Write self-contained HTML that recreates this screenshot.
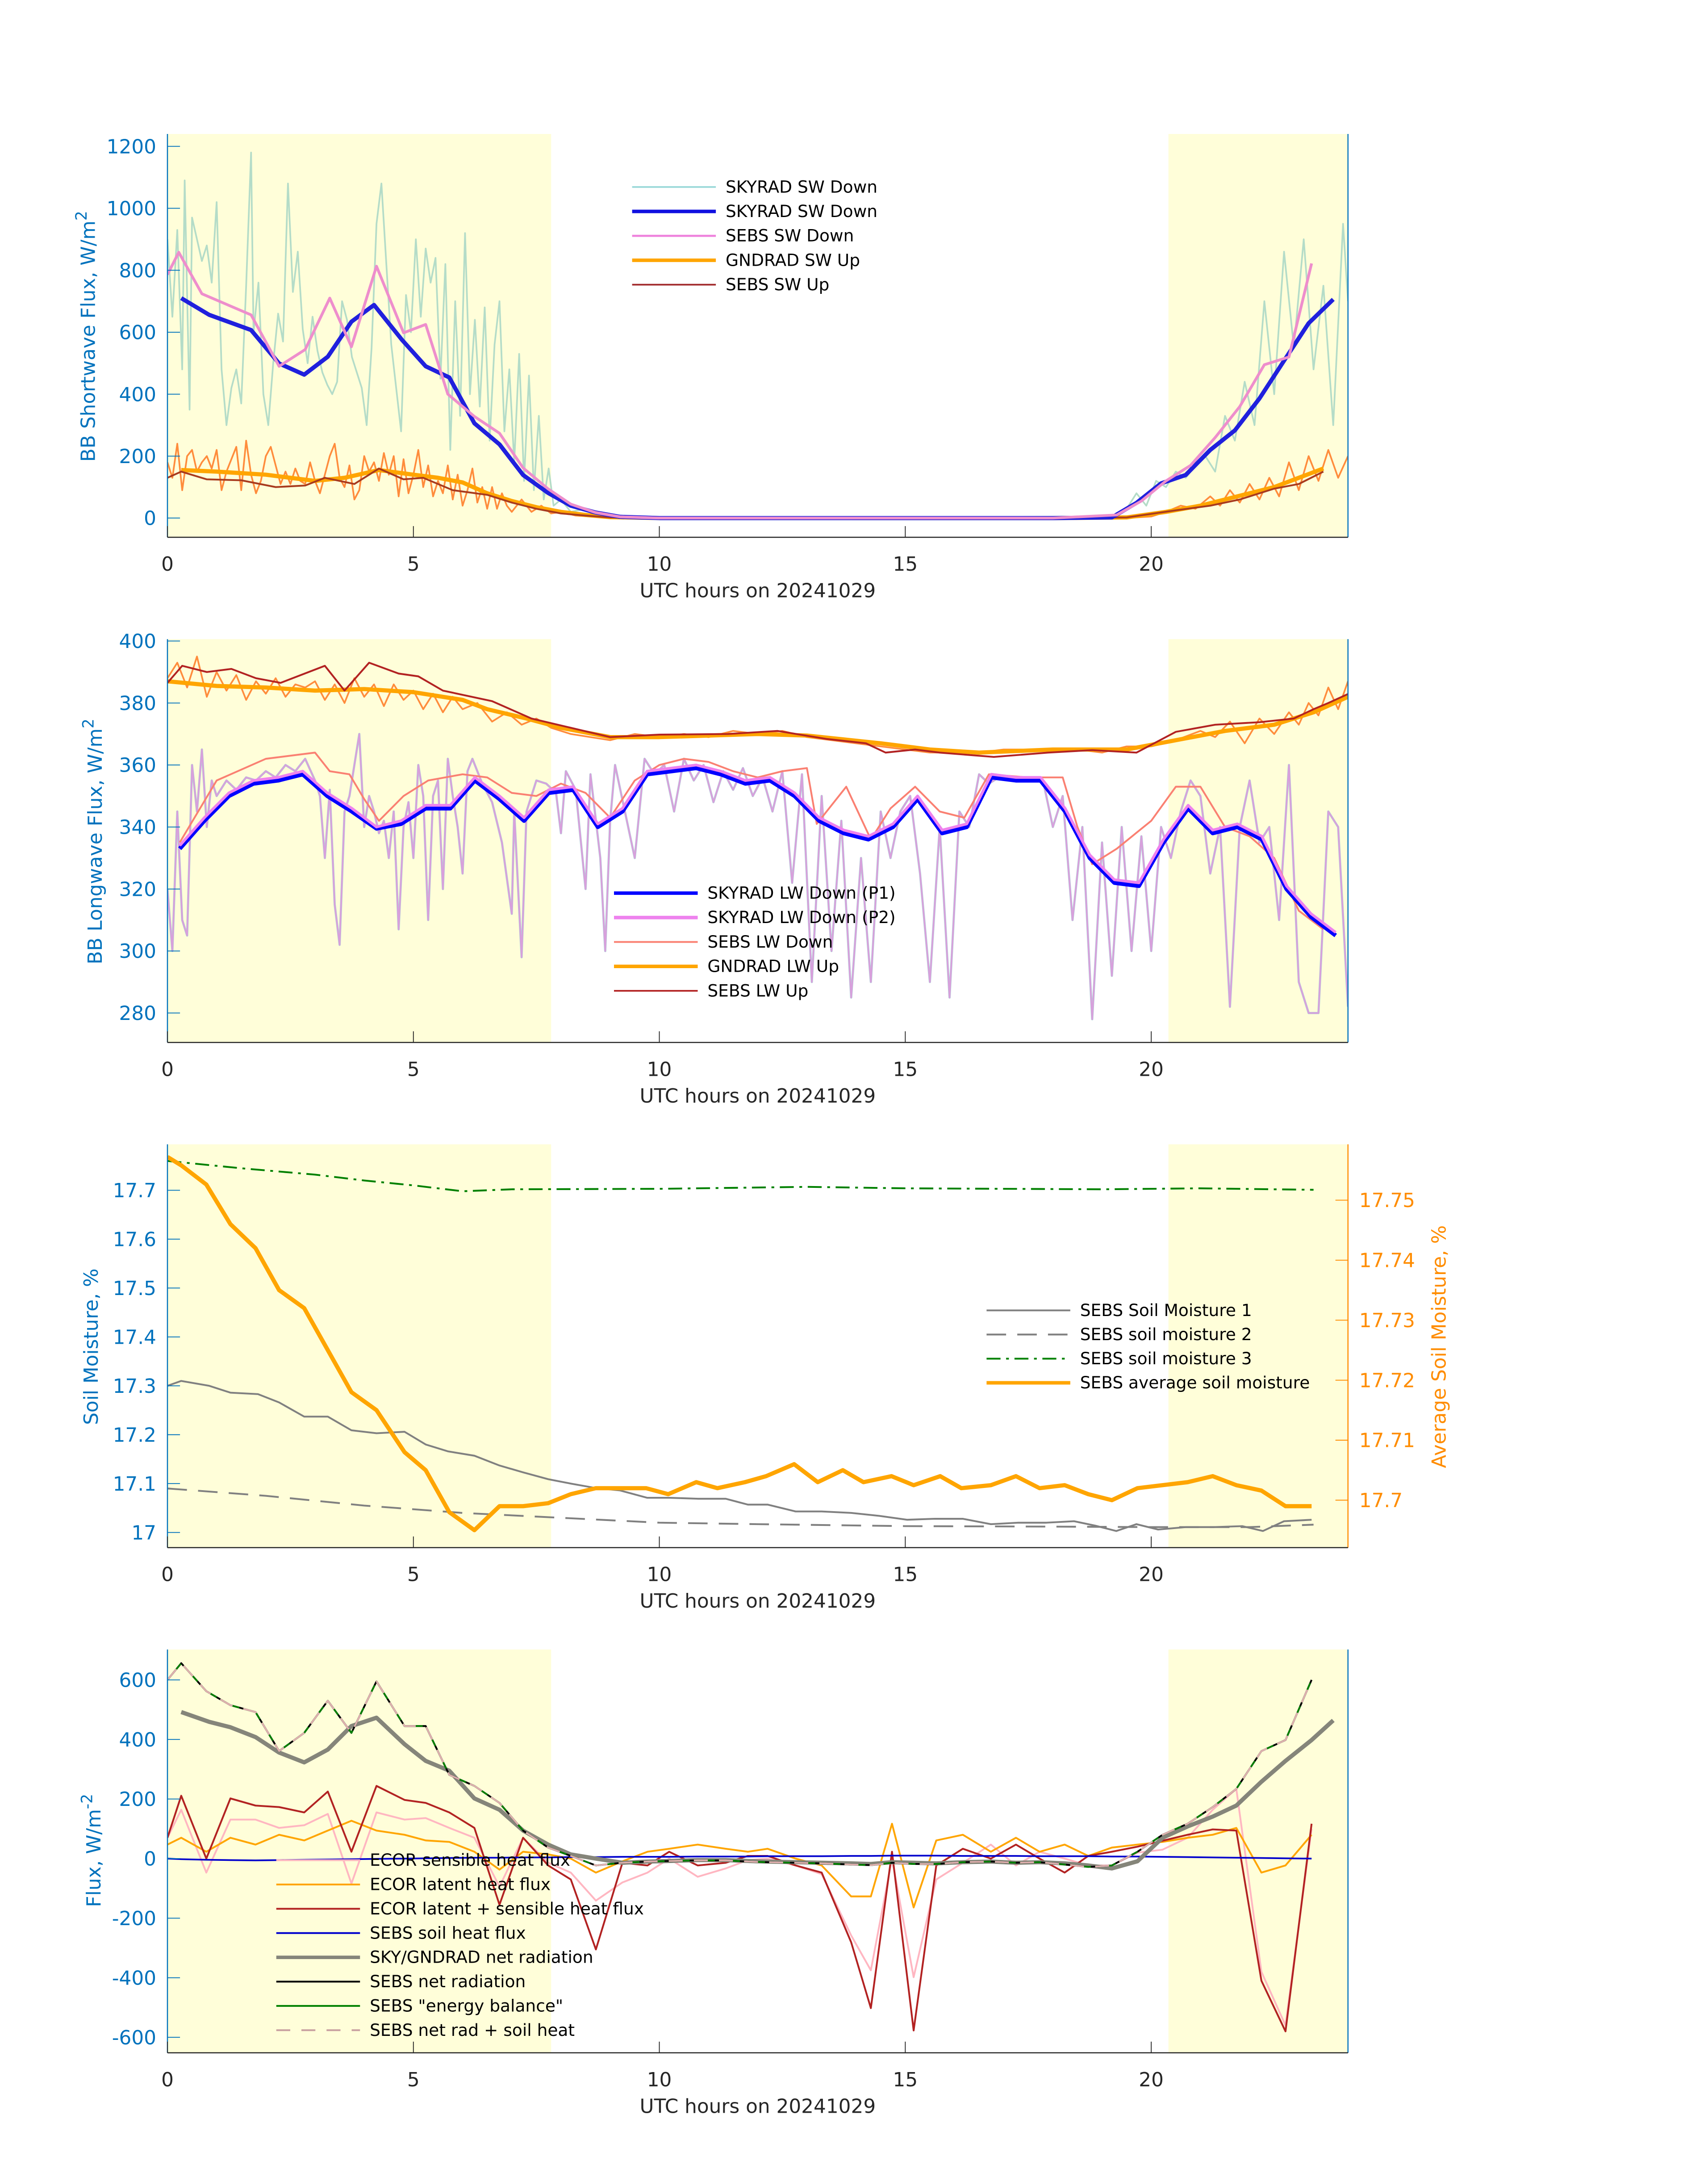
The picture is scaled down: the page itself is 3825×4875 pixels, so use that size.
<!DOCTYPE html>
<html><head><meta charset="utf-8"><style>
html,body{margin:0;padding:0;background:#fff}
svg{display:block}
text{font-family:"DejaVu Sans","Liberation Sans",sans-serif}
</style></head><body>
<svg id="fig" width="3825" height="4875" viewBox="0 0 1224 1560" xmlns="http://www.w3.org/2000/svg"></svg>
<script>
// ---------- DATA ----------
// Panel 1 (shortwave)
const swT_sky=[0.28,0.85,1.7,2.27,2.78,3.26,3.74,4.2,4.77,5.25,5.73,6.24,6.75,7.23,7.74,8.2,8.7,9.2,10,12,14,16,18,19.2,19.7,20.2,20.7,21.2,21.7,22.2,22.7,23.2,23.7];
const swV_sky=[710,656,607,499,463,521,634,688,575,490,454,306,238,139,81,40,18,4,0,0,0,0,0,2,49,112,139,220,283,386,508,629,706];
const swT_sebs=[0,0.23,0.7,1.7,2.27,2.8,3.3,3.74,4.25,4.8,5.25,5.7,6.24,6.75,7.23,7.74,8.2,8.7,9.2,10,12,14,16,18,19.3,19.8,20.3,20.8,21.3,21.8,22.3,22.8,23.26];
const swV_sebs=[786,858,724,656,490,544,710,553,813,598,625,400,328,274,162,94,45,18,4,0,0,0,0,0,10,55,120,170,260,360,495,520,822];
const swT_raw=[0,0.1,0.2,0.3,0.35,0.45,0.5,0.6,0.7,0.8,0.9,1.0,1.1,1.2,1.3,1.4,1.5,1.6,1.7,1.75,1.85,1.95,2.05,2.15,2.25,2.35,2.45,2.55,2.65,2.75,2.85,2.95,3.05,3.15,3.25,3.35,3.45,3.55,3.65,3.75,3.85,3.95,4.05,4.15,4.25,4.35,4.45,4.55,4.65,4.75,4.85,4.95,5.05,5.15,5.25,5.35,5.45,5.55,5.65,5.75,5.85,5.95,6.05,6.15,6.25,6.35,6.45,6.55,6.65,6.75,6.85,6.95,7.05,7.15,7.25,7.35,7.45,7.55,7.65,7.75,7.85,8.0,8.2,8.5,8.8,9.2,9.5,19.2,19.5,19.7,19.9,20.1,20.3,20.5,20.7,20.9,21.1,21.3,21.5,21.7,21.9,22.1,22.3,22.5,22.7,22.9,23.1,23.3,23.5,23.7,23.9,24];
const swV_raw=[900,650,930,480,1090,350,970,900,830,880,760,1020,480,300,420,480,370,750,1180,600,760,400,300,500,660,570,1080,730,860,610,500,650,540,470,430,400,440,700,640,520,470,420,300,550,950,1080,820,560,420,280,720,600,900,650,870,760,840,450,820,220,700,330,920,400,640,360,680,250,560,700,280,480,180,530,120,460,90,330,60,160,40,60,20,30,10,3,0,5,30,80,40,120,100,150,130,170,200,150,330,250,440,300,700,400,860,550,900,480,750,300,950,700];
const swT_gnd=[0.28,1,2,3,3.6,4.3,5,5.5,6,6.5,7,7.5,8,8.5,9,10,14,18,19.5,20.3,21,21.5,22,22.5,23,23.5];
const swV_gnd=[155,150,140,120,130,155,140,130,115,80,55,35,20,10,3,0,0,0,2,20,40,60,80,100,130,160];
const swT_upraw=[0,0.1,0.2,0.3,0.4,0.5,0.6,0.7,0.8,0.9,1.0,1.1,1.2,1.3,1.4,1.5,1.6,1.7,1.8,1.9,2.0,2.1,2.2,2.3,2.4,2.5,2.6,2.7,2.8,2.9,3.0,3.1,3.2,3.3,3.4,3.5,3.6,3.7,3.8,3.9,4.0,4.1,4.2,4.3,4.4,4.5,4.6,4.7,4.8,4.9,5.0,5.1,5.2,5.3,5.4,5.5,5.6,5.7,5.8,5.9,6.0,6.1,6.2,6.3,6.4,6.5,6.6,6.7,6.8,6.9,7.0,7.2,7.4,7.6,7.8,8.0,8.3,8.6,9,9.5,19.5,20,20.3,20.6,20.9,21.2,21.4,21.6,21.8,22,22.2,22.4,22.6,22.8,23,23.2,23.4,23.6,23.8,24];
const swV_upraw=[180,130,240,90,200,220,150,180,200,160,220,90,150,190,230,90,250,140,80,120,200,230,170,110,150,110,160,120,110,180,120,80,140,200,240,130,100,170,60,90,200,150,180,120,210,140,200,70,190,80,140,220,100,170,70,120,80,170,60,140,40,90,160,50,100,30,100,30,80,40,20,60,20,40,15,20,8,5,2,0,0,5,20,40,30,70,40,90,50,110,60,130,70,180,90,200,120,220,130,200];
const swT_sebsup=[0,0.28,0.8,1.5,2.2,2.8,3.2,3.8,4.3,4.8,5.2,5.8,6.5,7,7.5,8,8.5,9,10,14,18,19.5,20.5,21.2,21.8,22.5,23,23.5];
const swV_sebsup=[130,150,125,122,100,105,130,110,160,125,130,90,75,50,30,15,8,2,0,0,0,2,25,40,60,95,110,150];
// Panel 2 (longwave)
const lwT_h=[0.25,0.75,1.25,1.75,2.25,2.75,3.25,3.75,4.25,4.75,5.25,5.75,6.25,6.75,7.25,7.75,8.25,8.75,9.25,9.75,10.25,10.75,11.25,11.75,12.25,12.75,13.25,13.75,14.25,14.75,15.25,15.75,16.25,16.75,17.25,17.75,18.25,18.75,19.25,19.75,20.25,20.75,21.25,21.75,22.25,22.75,23.25,23.75];
const lwV_p1=[333,342,350,354,355,357,350,345,339.5,341,346,346,355,349,342,351,352,340,345,357,358,359,357,354,355,350,342,338,336,340,349,338,340,356,355,355,345,330,322,321,335,346,338,340,336,320,311,305];
const lwV_p2=[334,343,351,355,356,358,351,346,340,342,347,347,356,350,343,352,353,341,346,358,359,360,358,355,356,351,343,339,337,341,350,339,341,357,356,356,346,331,323,322,336,347,339,341,337,321,312,306];
const lwT_sebsdn=[0.25,1,2,3,3.3,3.7,4,4.3,4.8,5.3,6,6.5,7,7.5,8,8.5,9,9.5,10,10.5,11,11.5,12,12.5,13,13.2,13.8,14.3,14.7,15.2,15.7,16.2,16.7,17.5,18.2,18.5,18.8,19.3,20,20.5,21,21.5,22,22.5,23,23.5];
const lwV_sebsdn=[335,355,362,364,358,357,349,342,350,355,357,356,351,350,354,351,343,355,360,362,361,358,356,358,359,341,353,336,346,353,345,343,357,356,356,340,328,333,342,353,353,340,337,330,313,307];
const lwT_raw=[0,0.1,0.2,0.3,0.4,0.5,0.6,0.7,0.8,0.9,1.0,1.2,1.4,1.6,1.8,2.0,2.2,2.4,2.6,2.8,3.0,3.1,3.2,3.3,3.4,3.5,3.6,3.7,3.8,3.9,4.0,4.1,4.2,4.3,4.4,4.5,4.6,4.7,4.8,4.9,5.0,5.1,5.2,5.3,5.4,5.5,5.6,5.7,5.8,5.9,6.0,6.1,6.2,6.4,6.6,6.8,7.0,7.05,7.2,7.3,7.5,7.7,7.9,8.0,8.1,8.3,8.5,8.6,8.8,8.9,9.0,9.1,9.3,9.5,9.7,9.9,10.1,10.3,10.5,10.7,10.9,11.1,11.3,11.5,11.7,11.9,12.1,12.3,12.5,12.7,12.9,13.1,13.3,13.5,13.7,13.9,14.1,14.3,14.5,14.7,14.9,15.1,15.3,15.5,15.7,15.9,16.1,16.3,16.5,16.7,16.9,17.2,17.5,17.8,18.0,18.2,18.4,18.6,18.8,19.0,19.2,19.4,19.6,19.8,20.0,20.2,20.4,20.6,20.8,21.0,21.2,21.4,21.6,21.8,22.0,22.2,22.4,22.6,22.8,23.0,23.2,23.4,23.6,23.8,24];
const lwV_raw=[320,300,345,310,305,360,345,365,340,355,350,355,352,356,355,358,356,360,358,362,355,350,330,352,315,302,345,350,360,370,340,350,345,338,342,330,345,307,340,348,330,360,350,310,350,355,320,362,350,340,325,358,362,354,348,335,312,345,298,345,355,354,351,338,358,352,320,357,330,300,342,360,345,330,362,357,360,345,362,355,360,348,358,352,359,350,356,345,358,322,357,290,350,300,342,285,330,290,345,330,345,350,325,290,340,285,345,340,357,354,356,355,356,355,340,350,310,340,278,335,292,340,300,337,300,340,330,345,355,350,325,340,282,340,355,335,340,310,360,290,280,280,345,340,282];
const lwT_up=[0,0.3,0.8,1.3,1.8,2.3,3.2,3.6,4.1,4.7,5.1,5.6,6.6,7.4,8.2,9,10,11.4,12.4,13.4,14.2,14.6,15.2,15.7,16.8,17.9,18.8,19.7,20.5,21.3,22.2,22.9,23.3,23.6,24];
const lwV_up=[386.5,392,390,391,388,386.5,392,384,393,389.5,388.6,384,380.6,375,372,369,369.8,370,371,368.4,367,364,365,364,362.6,364,364.8,364,370.7,373,373.8,375,378,380,382.9];
const lwT_gnd=[0,1,2,3,4,5,6,6.5,7.3,8,9,10,12,13,14.5,15.5,16.5,18,19.5,20.5,21.5,22.5,23.3,24];
const lwV_gnd=[387,385.5,385,384,384.5,383.5,381,378,375,372,369,369,370,369.5,367,365,364,365,365,368,371,373,377,382];
const lwT_gndraw=[0,0.2,0.4,0.6,0.8,1.0,1.2,1.4,1.6,1.8,2.0,2.2,2.4,2.6,2.8,3.0,3.2,3.4,3.6,3.8,4.0,4.2,4.4,4.6,4.8,5.0,5.2,5.4,5.6,5.8,6.0,6.3,6.6,6.9,7.2,7.5,7.8,8.2,8.6,9.0,9.5,10,10.5,11,11.5,12,12.5,13,13.5,14,14.5,15,15.5,16,16.5,17,17.5,18,18.5,19,19.5,20,20.5,21,21.3,21.6,21.9,22.2,22.5,22.8,23,23.2,23.4,23.6,23.8,24];
const lwV_gndraw=[388,393,385,395,382,390,384,389,381,387,383,388,382,386,385,387,381,386,380,388,382,386,379,386,381,384,378,383,377,382,378,380,374,377,373,375,372,370,369,368,370,369,370,369,371,370,371,369,368,367,366,365,364,364,364,365,365,365,365,364,366,366,368,371,369,374,367,375,370,377,373,380,376,385,378,387];
// Panel 3 (soil moisture)
const smT1=[0,0.28,0.85,1.28,1.84,2.27,2.78,3.26,3.74,4.25,4.82,5.25,5.7,6.24,6.75,7.23,7.74,8.2,8.7,9.2,9.75,10.2,10.78,11.35,11.8,12.2,12.77,13.3,13.9,14.47,15.04,15.6,16.17,16.74,17.3,17.87,18.43,18.86,19.29,19.7,20.14,20.71,21.28,21.85,22.27,22.7,23.26];
const smV1=[17.30,17.31,17.30,17.286,17.283,17.266,17.237,17.237,17.209,17.203,17.206,17.18,17.166,17.157,17.137,17.123,17.109,17.1,17.091,17.086,17.071,17.071,17.069,17.069,17.057,17.057,17.043,17.043,17.04,17.034,17.026,17.028,17.028,17.017,17.02,17.02,17.023,17.014,17.003,17.017,17.006,17.011,17.011,17.013,17.003,17.023,17.026];
const smT2=[0,2,4,6,8,10,12,15,18,20,22,23.3];
const smV2=[17.09,17.075,17.055,17.04,17.03,17.02,17.017,17.013,17.012,17.011,17.011,17.016];
const smT3=[0,1.5,3,4,5,6,7,10,13,15,17,19,20,21,22.5,23.3];
const smV3=[17.76,17.745,17.732,17.72,17.71,17.698,17.702,17.703,17.707,17.704,17.703,17.702,17.703,17.704,17.702,17.701];
const smTa=[0,0.28,0.79,1.28,1.79,2.27,2.78,3.26,3.74,4.25,4.82,5.25,5.73,6.24,6.75,7.23,7.74,8.2,8.71,9.2,9.73,10.18,10.75,11.18,11.74,12.17,12.74,13.22,13.73,14.15,14.72,15.17,15.71,16.14,16.74,17.25,17.73,18.24,18.72,19.2,19.72,20.23,20.74,21.25,21.73,22.24,22.73,23.26];
const smVa=[17.7572,17.7558,17.7526,17.746,17.742,17.735,17.732,17.725,17.718,17.715,17.708,17.705,17.698,17.695,17.699,17.699,17.6995,17.701,17.702,17.702,17.702,17.701,17.703,17.702,17.703,17.704,17.706,17.703,17.705,17.703,17.704,17.7025,17.704,17.702,17.7025,17.704,17.702,17.7025,17.701,17.700,17.702,17.7025,17.703,17.704,17.7025,17.7016,17.699,17.699];
// Panel 4 (fluxes)
const fxT=[0,0.28,0.79,1.28,1.79,2.27,2.78,3.26,3.74,4.25,4.82,5.25,5.73,6.24,6.75,7.23,7.74,8.2,8.71,9.25,9.76,10.2,10.78,11.35,11.8,12.2,12.77,13.3,13.9,14.3,14.73,15.17,15.63,16.17,16.74,17.25,17.73,18.24,18.72,19.2,19.72,20.23,20.74,21.25,21.73,22.24,22.73,23.26];
const fxSens=[70,164,-47,131,131,103,112,150,-84,155,131,136,103,70,-94,70,-14,-47,-141,-80,-47,0,-61,-33,-5,0,-23,-52,-258,-375,0,-398,-70,-14,47,-23,23,0,-23,-23,20,30,70,164,234,-380,-560,100];
const fxLat=[47,70,23,70,47,80,61,94,127,94,80,61,56,23,-37,23,14,0,-47,-9,23,33,47,33,23,33,0,-23,-127,-127,117,-164,61,80,23,70,23,47,9,37,47,56,70,80,103,-47,-23,80];
const fxSum=[70,211,0,202,178,173,155,225,23,244,197,187,155,103,-155,70,-23,-70,-305,-14,-23,23,-23,-14,9,9,-23,-47,-281,-502,23,-577,-23,33,0,47,0,-47,9,23,40,60,80,98,94,-410,-580,117];
const fxSoil=[0,-2,-4,-5,-6,-5,-4,-3,-2,-1,0,1,2,3,3,4,4,5,5,6,6,6,7,7,7,8,8,8,9,9,10,10,10,9,9,9,8,8,8,7,7,6,5,4,3,2,1,0];
const fxSkyT=[0,0.28,0.85,1.28,1.79,2.27,2.78,3.26,3.74,4.25,4.82,5.25,5.73,6.24,6.75,7.23,7.74,8.2,8.71,9.25,9.76,10.2,10.78,11.35,11.8,12.2,12.77,13.3,13.9,14.3,14.73,15.17,15.63,16.17,16.74,17.25,17.73,18.24,18.72,19.2,19.72,20.23,20.74,21.25,21.73,22.24,22.73,23.26,23.7];
const fxSky=[null,492,459,441,408,356,323,366,445,473,384,328,295,202,164,94,47,14,0,-14,-10,-8,-5,-5,-8,-10,-12,-14,-16,-18,-12,-14,-16,-12,-10,-14,-12,-16,-23,-33,-9,70,108,141,178,258,328,398,464];
const fxNet=[600,656,562,515,492,361,422,530,422,595,445,445,281,244,187,94,37,9,-23,-14,-10,-8,-6,-6,-10,-12,-14,-16,-20,-22,-14,-18,-18,-12,-10,-14,-12,-20,-28,-23,23,80,117,173,234,361,398,600];
// ---------- DRAWING ----------
const svg=document.getElementById('fig');
const NS='http://www.w3.org/2000/svg';
const X0=120,X1=966;
function X(t){return X0+(X1-X0)*t/24;}
function mk(tag,attrs,parent){const e=document.createElementNS(NS,tag);for(const k in attrs)e.setAttribute(k,attrs[k]);(parent||svg).appendChild(e);return e;}
function txt(s,x,y,attrs,parent){const e=mk('text',Object.assign({x:x,y:y},attrs),parent);e.textContent=s;return e;}
function pts(T,V,Y){const p=[];for(let i=0;i<T.length;i++){if(V[i]==null)continue;p.push(X(T[i]).toFixed(2)+','+Y(V[i]).toFixed(2));}return p.join(' ');}
function series(g,T,V,Y,color,w,name,dash){
  const e=mk('polyline',{points:pts(T,V,Y),fill:'none',stroke:color,'stroke-width':w,'stroke-linejoin':'round'},g);
  if(dash)e.setAttribute('stroke-dasharray',dash);
  
  
  return e;
}
let clipId=0;
const xTicks=[0,5,10,15,20];
function panel(name,top,bot,ymin,ymax,ticks,tickLab,axisColor,rightColor){
  const g=mk('g',{},svg);
  
  
  const Y=v=>bot-(v-ymin)/(ymax-ymin)*(bot-top);
  const shade=mk('g',{},g);
  
  
  mk('rect',{x:X(0),y:top,width:X(7.8)-X(0),height:bot-top,fill:'#FFFED9'},shade);
  mk('rect',{x:X(20.35),y:top,width:X(24)-X(20.35),height:bot-top,fill:'#FFFED9'},shade);
  clipId++;
  const cp=mk('clipPath',{id:'c'+clipId},g);
  mk('rect',{x:X0,y:top,width:X1-X0,height:bot-top},cp);
  const data=mk('g',{'clip-path':'url(#c'+clipId+')'},g);
  mk('line',{x1:X0,y1:top,x2:X0,y2:bot,stroke:axisColor,'stroke-width':0.8},g);
  mk('line',{x1:X1,y1:top,x2:X1,y2:bot,stroke:rightColor,'stroke-width':0.8},g);
  mk('line',{x1:X0,y1:bot,x2:X1,y2:bot,stroke:'#262626','stroke-width':0.8},g);
  for(let i=0;i<ticks.length;i++){
    const y=Y(ticks[i]);
    mk('line',{x1:X0,y1:y,x2:X0+9,y2:y,stroke:axisColor,'stroke-width':0.6},g);
    const t=txt(tickLab[i],X0-8,y+5,{'font-size':14,fill:axisColor,'text-anchor':'end'},g);
    
    
  }
  for(const h of xTicks){
    mk('line',{x1:X(h),y1:bot,x2:X(h),y2:bot-8,stroke:'#262626','stroke-width':0.6},g);
    const t=txt(String(h),X(h),bot+24,{'font-size':14,fill:'#262626','text-anchor':'middle'},g);
    
    
  }
  const xl=txt('UTC hours on 20241029',543,bot+43,{'font-size':14,fill:'#262626','text-anchor':'middle'},g);
  
  
  return {g:g,data:data,Y:Y,top:top,bot:bot};
}
function ylabel(g,html,x,y,color){
  const t=mk('text',{x:0,y:0,'font-size':14,fill:color,'text-anchor':'middle',transform:'translate('+x+','+y+') rotate(-90)'},g);
  t.innerHTML=html;
  
  
}
function legend(g,x,y0,dy,items){
  const lg=mk('g',{},g);
  
  
  items.forEach((it,i)=>{
    const y=y0+i*dy;
    const e=mk('g',{},lg);
    
    
    const l=mk('line',{x1:x,y1:y,x2:x+60,y2:y,stroke:it[1],'stroke-width':it[2]},e);
    if(it[3])l.setAttribute('stroke-dasharray',it[3]);
    txt(it[0],x+67,y+4,{'font-size':12,fill:'#000'},e);
  });
}
const BLUE='#0072BD';
// Panel 1
{
 const p=panel('shortwave-panel',96,385,-62,1240,[0,200,400,600,800,1000,1200],['0','200','400','600','800','1000','1200'],BLUE,BLUE);
 series(p.data,swT_raw,swV_raw,p.Y,'#B4DCC8',1.2,'skyrad-sw-down-raw');
 series(p.data,swT_upraw,swV_upraw,p.Y,'#FF8C3C',1.2,'gndrad-sw-up-raw');
 series(p.data,swT_gnd,swV_gnd,p.Y,'#FFA500',3,'gndrad-sw-up');
 series(p.data,swT_sebsup,swV_sebsup,p.Y,'#A83A1E',1.3,'sebs-sw-up');
 series(p.data,swT_sky,swV_sky,p.Y,'#2020DD',3,'skyrad-sw-down');
 series(p.data,swT_sebs,swV_sebs,p.Y,'#EE8ECC',2,'sebs-sw-down');
 ylabel(p.g,'BB Shortwave Flux, W/m<tspan dy="-6" font-size="11">2</tspan>',68,241,BLUE);
 legend(p.g,453,134,17.5,[['SKYRAD SW Down','#99D8D8',1.2],['SKYRAD SW Down','#1010E0',2.5],['SEBS SW Down','#EE82DD',1.5],['GNDRAD SW Up','#FFA500',2.5],['SEBS SW Up','#A0282A',1.2]]);
}
// Panel 2
{
 const p=panel('longwave-panel',458,747,270.5,400.6,[280,300,320,340,360,380,400],['280','300','320','340','360','380','400'],BLUE,BLUE);
 series(p.data,lwT_raw,lwV_raw,p.Y,'#A8DCD8',1.6,'skyrad-lw-down-raw-p1');
 series(p.data,lwT_raw,lwV_raw,p.Y,'#D8A0DC',1.2,'skyrad-lw-down-raw-p2');
 series(p.data,lwT_gndraw,lwV_gndraw,p.Y,'#FF8C3C',1.2,'gndrad-lw-up-raw');
 series(p.data,lwT_gnd,lwV_gnd,p.Y,'#FFA500',3,'gndrad-lw-up');
 series(p.data,lwT_up,lwV_up,p.Y,'#B22222',1.3,'sebs-lw-up');
 series(p.data,lwT_sebsdn,lwV_sebsdn,p.Y,'#FA8072',1.3,'sebs-lw-down');
 series(p.data,lwT_h,lwV_p1,p.Y,'#0000FF',3,'skyrad-lw-down-p1');
 series(p.data,lwT_h,lwV_p2,p.Y,'#EE82EE',2,'skyrad-lw-down-p2');
 ylabel(p.g,'BB Longwave Flux, W/m<tspan dy="-6" font-size="11">2</tspan>',73,603,BLUE);
 legend(p.g,440,640,17.5,[['SKYRAD LW Down (P1)','#0000FF',2.5],['SKYRAD LW Down (P2)','#EE82EE',2.5],['SEBS LW Down','#FA8072',1.3],['GNDRAD LW Up','#FFA500',2.5],['SEBS LW Up','#B22222',1.2]]);
}
// Panel 3
{
 const ORG='#FF8C00';
 const p=panel('soil-moisture-panel',820,1109,16.969,17.794,[17,17.1,17.2,17.3,17.4,17.5,17.6,17.7],['17','17.1','17.2','17.3','17.4','17.5','17.6','17.7'],BLUE,ORG);
 const YR=v=>1075-(v-17.7)*4300;
 for(const v of [17.70,17.71,17.72,17.73,17.74,17.75]){
   mk('line',{x1:X1-9,y1:YR(v),x2:X1,y2:YR(v),stroke:ORG,'stroke-width':0.6},p.g);
   const t=txt(String(+v.toFixed(2)),X1+8,YR(v)+5,{'font-size':14,fill:ORG},p.g);
   
   
 }
 series(p.data,smT1,smV1,p.Y,'#808080',1.3,'sebs-soil-moisture-1');
 series(p.data,smT2,smV2,p.Y,'#808080',1.3,'sebs-soil-moisture-2','14,8');
 series(p.data,smT3,smV3,p.Y,'#008000',1.3,'sebs-soil-moisture-3','10,4,2,4');
 series(p.data,smTa,smVa,YR,'#FFA500',3,'sebs-average-soil-moisture');
 ylabel(p.g,'Soil Moisture, %',70,965,BLUE);
 const t=mk('text',{x:0,y:0,'font-size':14,fill:ORG,'text-anchor':'middle',transform:'translate(1036,965) rotate(-90)'},p.g);
 t.textContent='Average Soil Moisture, %';
 
 
 legend(p.g,707,939,17.3,[['SEBS Soil Moisture 1','#808080',1.3],['SEBS soil moisture 2','#808080',1.3,'14,8'],['SEBS soil moisture 3','#008000',1.3,'10,4,2,4'],['SEBS average soil moisture','#FFA500',2.5]]);
}
// Panel 4
{
 const p=panel('flux-panel',1182,1471,-652,702,[-600,-400,-200,0,200,400,600],['-600','-400','-200','0','200','400','600'],BLUE,BLUE);
 series(p.data,fxT,fxSens,p.Y,'#FFB6C1',1.3,'ecor-sensible-heat-flux');
 series(p.data,fxT,fxLat,p.Y,'#FFA500',1.3,'ecor-latent-heat-flux');
 series(p.data,fxT,fxSum,p.Y,'#B22222',1.3,'ecor-latent-plus-sensible');
 series(p.data,fxT,fxSoil,p.Y,'#0000CD',1.2,'sebs-soil-heat-flux');
 series(p.data,fxSkyT,fxSky,p.Y,'#85857A',3,'sky-gndrad-net-radiation');
 series(p.data,fxT,fxNet,p.Y,'#000000',1.3,'sebs-net-radiation');
 series(p.data,fxT,fxNet,p.Y,'#008000',1.2,'sebs-energy-balance','6,3');
 series(p.data,fxT,fxNet,p.Y,'#E0B0B0',1.2,'sebs-net-rad-plus-soil-heat','10,8');
 ylabel(p.g,'Flux, W/m<tspan dy="-6" font-size="11">-2</tspan>',72,1326,BLUE);
 legend(p.g,198,1333,17.4,[['ECOR sensible heat flux','#FFB6C1',1.3],['ECOR latent heat flux','#FFA500',1.3],['ECOR latent + sensible heat flux','#B22222',1.3],['SEBS soil heat flux','#0000CD',1.3],['SKY/GNDRAD net radiation','#85857A',2.5],['SEBS net radiation','#000000',1.3],['SEBS "energy balance"','#008000',1.3],['SEBS net rad + soil heat','#C8A0A0',1.3,'10,8']]);
}
</script>
</body></html>
